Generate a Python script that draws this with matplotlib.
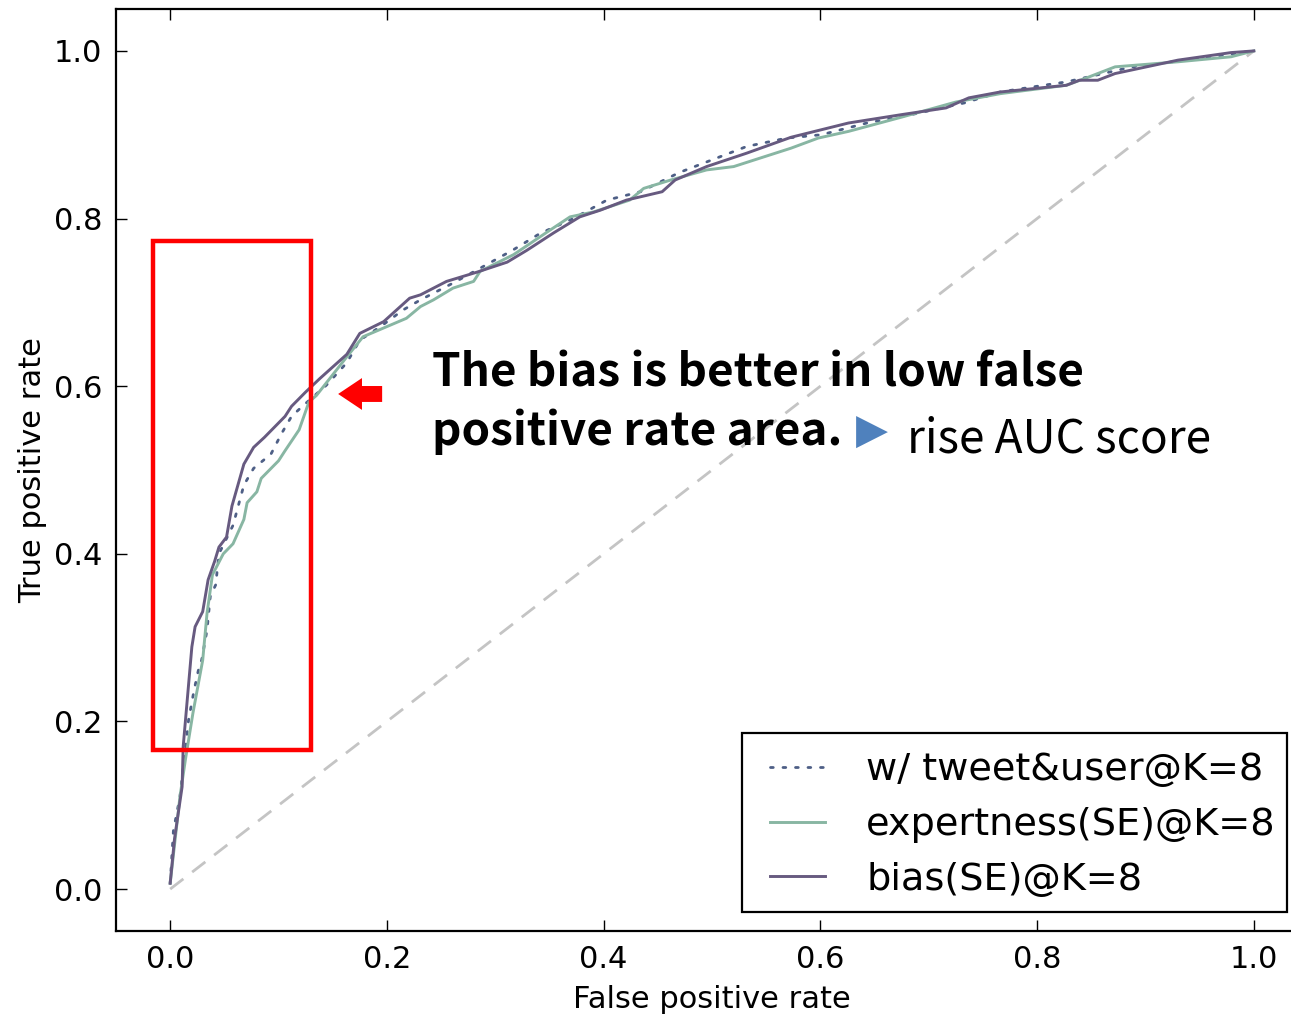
import matplotlib
matplotlib.use("Agg")
import matplotlib.pyplot as plt
from matplotlib.patches import Rectangle, FancyArrow

# ---------------- data ----------------
tweet_user_fpr = [0.000, 0.003, 0.009, 0.017, 0.022, 0.026, 0.029, 0.034, 0.037, 0.042,
                  0.045, 0.058, 0.068, 0.077, 0.093, 0.103, 0.112, 0.122, 0.144, 0.163,
                  0.175, 0.194, 0.215, 0.231, 0.249, 0.261, 0.292, 0.317, 0.341, 0.372,
                  0.403, 0.434, 0.470, 0.500, 0.532, 0.569, 0.601, 0.643, 0.684, 0.733,
                  0.766, 0.806, 0.827, 0.888, 0.938, 1.000]
tweet_user_tpr = [0.007, 0.070, 0.110, 0.202, 0.237, 0.261, 0.273, 0.309, 0.349, 0.363,
                  0.400, 0.434, 0.482, 0.502, 0.519, 0.544, 0.564, 0.576, 0.601, 0.628,
                  0.655, 0.671, 0.691, 0.703, 0.715, 0.723, 0.745, 0.763, 0.782, 0.800,
                  0.822, 0.832, 0.855, 0.870, 0.886, 0.896, 0.900, 0.914, 0.924, 0.938,
                  0.951, 0.959, 0.963, 0.981, 0.989, 1.000]

expert_fpr = [0.000, 0.009, 0.014, 0.021, 0.030, 0.034, 0.039, 0.049, 0.058, 0.068,
              0.071, 0.080, 0.084, 0.100, 0.106, 0.119, 0.128, 0.135, 0.163, 0.178,
              0.218, 0.231, 0.243, 0.261, 0.280, 0.286, 0.317, 0.348, 0.369, 0.391,
              0.424, 0.437, 0.462, 0.495, 0.520, 0.573, 0.598, 0.626, 0.675, 0.725,
              0.766, 0.827, 0.848, 0.872, 0.930, 0.979, 1.000]
expert_tpr = [0.007, 0.110, 0.154, 0.210, 0.273, 0.329, 0.375, 0.400, 0.412, 0.441,
              0.461, 0.474, 0.490, 0.511, 0.523, 0.548, 0.581, 0.589, 0.635, 0.659,
              0.681, 0.695, 0.703, 0.717, 0.725, 0.737, 0.757, 0.784, 0.802, 0.808,
              0.822, 0.836, 0.846, 0.858, 0.862, 0.884, 0.896, 0.904, 0.921, 0.939,
              0.949, 0.959, 0.969, 0.981, 0.987, 0.993, 1.000]

bias_fpr = [0.000, 0.004, 0.011, 0.012, 0.020, 0.023, 0.030, 0.035, 0.041, 0.045,
            0.052, 0.057, 0.068, 0.077, 0.087, 0.106, 0.112, 0.125, 0.138, 0.163,
            0.175, 0.197, 0.221, 0.231, 0.255, 0.283, 0.311, 0.329, 0.354, 0.378,
            0.397, 0.421, 0.454, 0.466, 0.495, 0.532, 0.573, 0.626, 0.675, 0.716,
            0.737, 0.766, 0.827, 0.839, 0.856, 0.872, 0.930, 0.979, 1.000]
bias_tpr = [0.007, 0.060, 0.122, 0.170, 0.289, 0.313, 0.331, 0.369, 0.391, 0.408,
            0.420, 0.457, 0.507, 0.527, 0.539, 0.564, 0.576, 0.593, 0.609, 0.638,
            0.663, 0.677, 0.705, 0.709, 0.725, 0.736, 0.748, 0.762, 0.783, 0.802,
            0.810, 0.822, 0.832, 0.846, 0.862, 0.878, 0.897, 0.914, 0.924, 0.932,
            0.944, 0.951, 0.959, 0.965, 0.965, 0.973, 0.989, 0.998, 1.000]

chance = [0.0, 1.0]
series_labels = ["w/ tweet&user@K=8", "expertness(SE)@K=8", "bias(SE)@K=8"]
ticks = [0.0, 0.2, 0.4, 0.6, 0.8, 1.0]
tick_labels = ["0.0", "0.2", "0.4", "0.6", "0.8", "1.0"]
x_label = "False positive rate"
y_label = "True positive rate"
note_line1 = "The bias is better in low false"
note_line2 = "positive rate area."
note_extra = "rise AUC score"

# ---------------- figure ----------------
W, H = 1291, 1019
fig = plt.figure(figsize=(W / 100, H / 100), dpi=100)
ax = fig.add_axes([116 / W, 1 - 931 / H, (1308 - 116) / W, (931 - 9) / H])

ax.plot(chance, chance, linestyle=(0, (6, 4)), color="#c4c4c4", lw=2.0)
ax.plot(tweet_user_fpr, tweet_user_tpr, linestyle=(0, (1, 3.5)), color="#4e5f86",
        lw=2.0, dash_capstyle="round", label=series_labels[0])
ax.plot(expert_fpr, expert_tpr, color="#88b6a3", lw=2.1, label=series_labels[1])
ax.plot(bias_fpr, bias_tpr, color="#675a80", lw=2.1, label=series_labels[2])

ax.set_xlim(-0.05, 1.05)
ax.set_ylim(-0.05, 1.05)
ax.set_xticks(ticks)
ax.set_xticklabels(tick_labels)
ax.set_yticks(ticks)
ax.set_yticklabels(tick_labels)
ax.tick_params(direction="in", length=8, width=1.0, labelsize=22, pad=10,
               top=True, right=True)
for sp in ax.spines.values():
    sp.set_linewidth(1.6)
ax.set_xlabel(x_label, fontsize=22, labelpad=8)
ax.set_ylabel(y_label, fontsize=22, labelpad=5)

# legend frame drawn as a box, legend content placed inside it
ax.add_patch(Rectangle((0.5252, 0.0206), 0.9824 - 0.5252, 0.2148 - 0.0206,
                       transform=ax.transAxes, facecolor="white", edgecolor="black",
                       lw=1.6, zorder=4.5))
leg = ax.legend(loc="center left", bbox_to_anchor=(0.5487, 0.1150), borderaxespad=0,
                fontsize=27.5, frameon=False, handlelength=1.45,
                handletextpad=1.07, borderpad=0, labelspacing=0.49)
leg.set_zorder(6)

# red highlight rectangle
ax.add_patch(Rectangle((-0.0157, 0.166), 0.1457, 0.607, fill=False,
                       edgecolor="#ff0000", lw=3.2, zorder=5))
# red block arrow
ax.add_patch(FancyArrow(0.1956, 0.5907, -0.0406, 0.0, width=0.019, head_width=0.038,
                        head_length=0.022, length_includes_head=True,
                        color="#ff0000", lw=0, zorder=5))

# annotation text
note_font = ["Noto Sans CJK TC", "DejaVu Sans"]
fig.text(432 / W, 1 - 387 / H, note_line1, fontsize=33, fontweight="bold",
         family=note_font, ha="left", va="baseline")
fig.text(432 / W, 1 - 445 / H, note_line2, fontsize=33, fontweight="bold",
         family=note_font, ha="left", va="baseline")
fig.text(872 / W, 1 - 432 / H, "\u25B6", fontsize=30, color="#4f81bd",
         family=["DejaVu Sans"], ha="center", va="center")
fig.text(907 / W, 1 - 452 / H, note_extra, fontsize=33,
         family=note_font, ha="left", va="baseline")

fig.savefig("out.png", dpi=100)
